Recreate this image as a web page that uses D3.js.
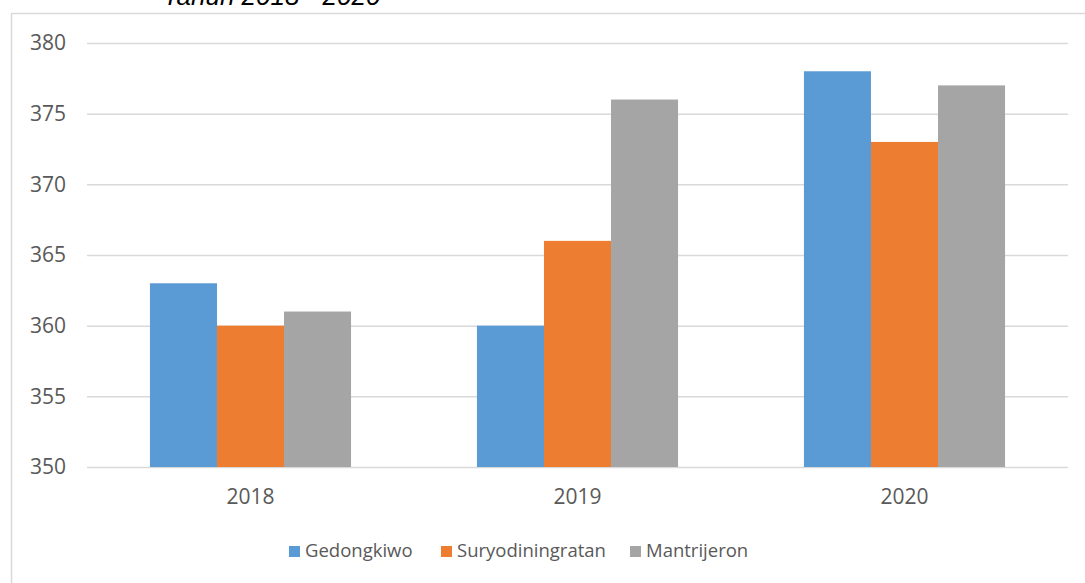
<!DOCTYPE html>
<html><head><meta charset="utf-8">
<script src="https://cdn.jsdelivr.net/npm/d3@7"></script>
<style>
html,body{margin:0;padding:0;background:#fff;}
svg{display:block;}
</style>
</head><body>
<svg id="chart" width="1085" height="583"></svg>
<script>
const categories = ["2018", "2019", "2020"];
const seriesNames = ["Gedongkiwo", "Suryodiningratan", "Mantrijeron"];
const gedongkiwo = [363, 360, 378];
const suryodiningratan = [360, 366, 373];
const mantrijeron = [361, 376, 377];
const yTicks = [350, 355, 360, 365, 370, 375, 380];
const colors = ["#5B9BD5", "#ED7D31", "#A5A5A5"];
const titleText = "Tahun 2018 - 2020";

const seriesValues = [gedongkiwo, suryodiningratan, mantrijeron];
const svg = d3.select("#chart");
const font = "'Open Sans', sans-serif";
const textColor = "#595959";

// frame
svg.append("path").attr("d", "M11.5,583 L11.5,13.5 L1085,13.5")
  .attr("fill", "none").attr("stroke", "#d9d9d9").attr("stroke-width", 1.5);

// title (cut off at top, as in the reference)
svg.append("text").attr("x", 163).attr("y", 4.5)
  .attr("font-family", "'Liberation Sans', Arial, sans-serif")
  .attr("font-size", 26).attr("font-style", "italic").attr("fill", "#000")
  .text(titleText);

const plot = {left: 87, right: 1068, top: 43, bottom: 467};
const x0 = d3.scaleBand().domain(categories).range([plot.left, plot.right])
  .paddingInner(0.385).paddingOuter(0.1925);
const x1 = d3.scaleBand().domain(seriesNames).range([0, x0.bandwidth()]);
const y = d3.scaleLinear().domain([350, 380]).range([plot.bottom, plot.top]);

// gridlines
const yAxis = d3.axisLeft(y).tickValues(yTicks).tickSize(-(plot.right - plot.left)).tickPadding(21);
const gy = svg.append("g").attr("transform", `translate(${plot.left},0)`).call(yAxis);
gy.select(".domain").remove();
gy.selectAll(".tick line").attr("stroke", "#d9d9d9").attr("stroke-width", 1.5);
gy.selectAll(".tick text").attr("font-family", font).attr("font-size", 21)
  .attr("fill", textColor);

// bars
const g = svg.append("g");
categories.forEach((c, i) => {
  seriesNames.forEach((s, j) => {
    const v = seriesValues[j][i];
    g.append("rect")
      .attr("x", x0(c) + x1(s))
      .attr("y", y(v))
      .attr("width", x1.bandwidth())
      .attr("height", y(350) - y(v))
      .attr("fill", colors[j]);
  });
});

// x axis labels
const xAxis = d3.axisBottom(x0).tickSize(0).tickPadding(22);
const gx = svg.append("g").attr("transform", `translate(0,${plot.bottom})`).call(xAxis);
gx.select(".domain").remove();
gx.selectAll(".tick text").attr("font-family", font).attr("font-size", 21).attr("fill", textColor);

// legend
const legendX = [289, 441, 630];
const lg = svg.append("g");
seriesNames.forEach((s, j) => {
  lg.append("rect").attr("x", legendX[j]).attr("y", 546).attr("width", 11).attr("height", 11).attr("fill", colors[j]);
  lg.append("text").attr("x", legendX[j] + 16).attr("y", 551).attr("dy", "0.35em")
    .attr("font-family", font).attr("font-size", 18.5).attr("fill", textColor).text(s);
});
</script>
</body></html>
